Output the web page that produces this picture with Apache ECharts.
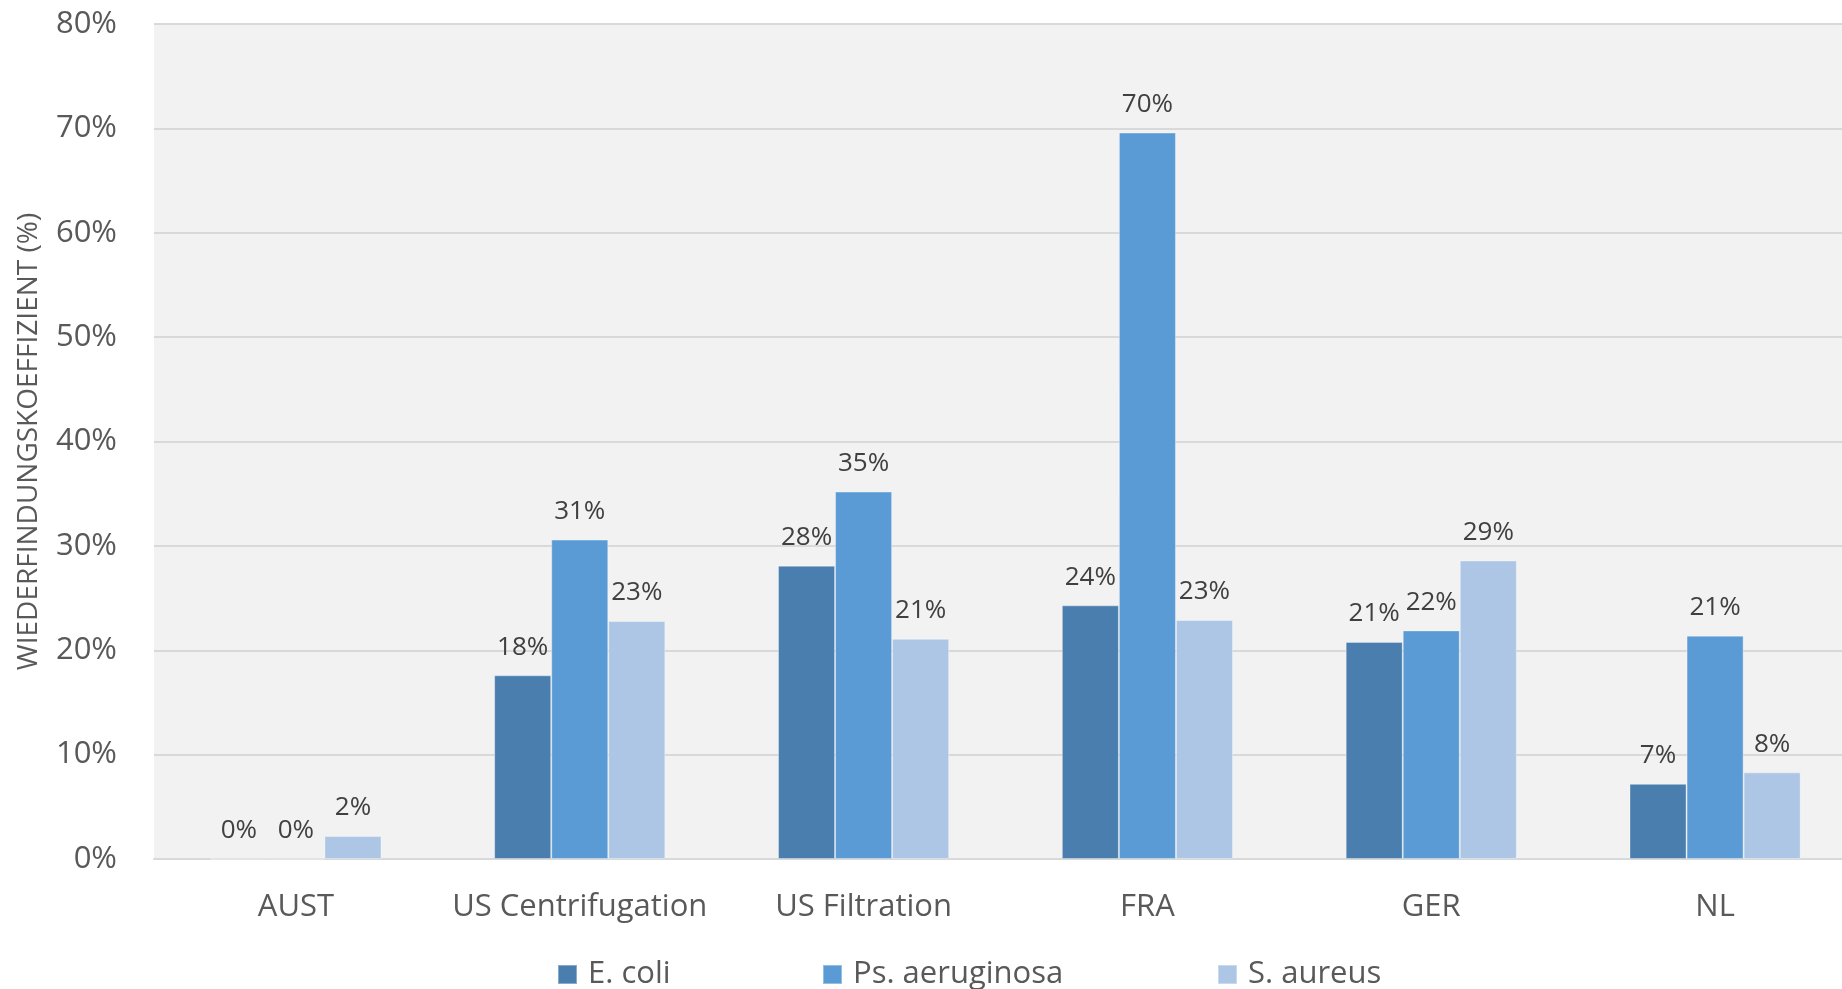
<!DOCTYPE html>
<html>
<head>
<meta charset="utf-8">
<script src="https://cdn.jsdelivr.net/npm/echarts@6/dist/echarts.min.js"></script>
<style>
  html, body { margin: 0; padding: 0; background: #fff; }
  #chart { width: 1842px; height: 989px; }
</style>
</head>
<body>
<div id="chart"></div>
<script>
var categories = ['AUST', 'US Centrifugation', 'US Filtration', 'FRA', 'GER', 'NL'];
var seriesNames = ['E. coli', 'Ps. aeruginosa', 'S. aureus'];
// Wiederfindung in %
var eColi = [0, 17.6, 28.1, 24.3, 20.8, 7.2];
var psAeruginosa = [0, 30.6, 35.2, 69.6, 21.9, 21.4];
var sAureus = [2.2, 22.8, 21.1, 22.9, 28.6, 8.3];
var yTicks = { min: 0, max: 80, interval: 10 };

var colors = ['#4A7EAE', '#5B9BD5', '#ADC6E5'];
var font = 'Open Sans';

function makeSeries(name, values, color) {
    return {
        name: name,
        type: 'bar',
        data: values,
        barGap: '0%',
        barCategoryGap: '39.7%',
        itemStyle: {
            color: color,
            borderColor: 'rgba(255,255,255,0.35)',
            borderWidth: 1
        },
        label: {
            show: true,
            position: 'top',
            distance: 15,
            color: '#404040',
            fontFamily: font,
            fontSize: 26,
            formatter: function (p) {
                return Math.round(p.value) + '%';
            }
        }
    };
}

function makeLegend(name, left) {
    return {
        data: [name],
        left: left,
        top: 954,
        itemWidth: 19,
        itemHeight: 19,
        icon: 'rect',
        textStyle: {
            color: '#595959',
            fontFamily: font,
            fontSize: 31,
            padding: [0, 0, 0, 6]
        }
    };
}

var myChart = echarts.init(document.getElementById('chart'));

var option = {
    animation: false,
    color: colors,
    grid: {
        left: 154,
        top: 24,
        width: 1703,
        height: 835,
        outerBoundsMode: 'none',
        containLabel: false,
        show: true,
        backgroundColor: '#F2F2F2',
        borderWidth: 0
    },
    legend: [
        makeLegend(seriesNames[0], 552),
        makeLegend(seriesNames[1], 817),
        makeLegend(seriesNames[2], 1212)
    ],
    xAxis: {
        type: 'category',
        data: categories,
        axisLine: { lineStyle: { color: '#D9D9D9', width: 2 } },
        axisTick: { show: false },
        axisLabel: {
            interval: 0,
            color: '#595959',
            fontFamily: font,
            fontSize: 31,
            margin: 33
        }
    },
    yAxis: {
        type: 'value',
        min: yTicks.min,
        max: yTicks.max,
        interval: yTicks.interval,
        name: 'WIEDERFINDUNGSKOEFFIZIENT (%)',
        nameLocation: 'middle',
        nameGap: 111,
        nameTextStyle: {
            color: '#595959',
            fontFamily: font,
            fontSize: 28
        },
        axisLine: { show: false },
        axisTick: { show: false },
        splitLine: { lineStyle: { color: '#D9D9D9', width: 2 } },
        axisLabel: {
            color: '#595959',
            fontFamily: font,
            fontSize: 31,
            margin: 37,
            formatter: '{value}%'
        }
    },
    series: [
        makeSeries(seriesNames[0], eColi, colors[0]),
        makeSeries(seriesNames[1], psAeruginosa, colors[1]),
        makeSeries(seriesNames[2], sAureus, colors[2])
    ]
};

myChart.setOption(option);
</script>
</body>
</html>
